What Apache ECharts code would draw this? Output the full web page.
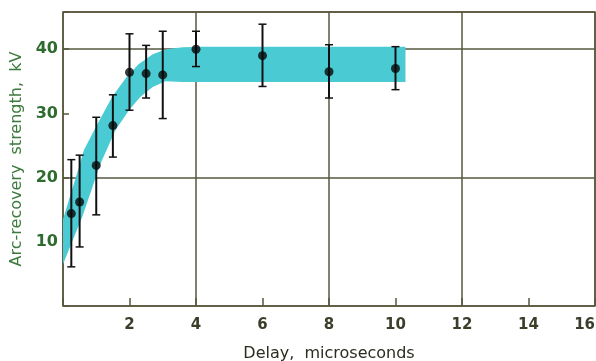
<!DOCTYPE html>
<html>
<head>
<meta charset="utf-8">
<script src="https://cdn.jsdelivr.net/npm/echarts@6/dist/echarts.min.js"></script>
<style>
html,body{margin:0;padding:0;background:#fff;}
#c{width:596px;height:361px;}
</style>
</head>
<body>
<div id="c"></div>
<script>
// Data points: delay (microseconds), arc-recovery strength (kV), error bar low/high
var delays = [0.25, 0.5, 1.0, 1.5, 2.0, 2.5, 3.0, 4.0, 6.0, 8.0, 10.0];
var strength = [14.4, 16.2, 21.9, 28.1, 36.4, 36.2, 36.0, 40.0, 39.0, 36.5, 37.0];
var errLow = [6.1, 9.2, 14.2, 23.2, 30.5, 32.4, 29.2, 37.3, 34.2, 32.4, 33.7];
var errHigh = [22.8, 23.5, 29.4, 32.9, 42.4, 40.6, 42.8, 42.8, 43.9, 40.7, 40.4];

// Shaded band edges (x, y)
var bandUpperX = [0, 0.33, 0.63, 1.0, 1.48, 1.9, 2.28, 2.7, 3.1, 3.6, 4.2, 10.3];
var bandUpperY = [13.5, 19.1, 24.3, 28.0, 32.6, 35.6, 37.7, 39.2, 40.0, 40.3, 40.4, 40.4];
var bandLowerX = [0, 0.58, 1.13, 1.58, 2.0, 2.33, 2.7, 3.08, 3.6, 10.3];
var bandLowerY = [6.5, 13.9, 22.2, 27.4, 30.6, 32.6, 34.1, 35.0, 34.9, 34.9];

var xTicks = [2, 4, 6, 8, 10, 12, 14, 16];
var yTicks = [10, 20, 30, 40];

var gridColor = '#57573f';

var chart = echarts.init(document.getElementById('c'), null, {renderer: 'canvas'});

var errData = delays.map(function (d, i) { return [d, errLow[i], errHigh[i]]; });
var ptData = delays.map(function (d, i) { return [d, strength[i]]; });

var option = {
  animation: false,
  backgroundColor: '#ffffff',
  grid: {
    left: 63, top: 12, right: 1, bottom: 55,
    containLabel: false, outerBoundsMode: 'none',
    show: true, borderColor: gridColor, borderWidth: 1.5, backgroundColor: 'transparent'
  },
  xAxis: [
    {
      type: 'value', min: 0, max: 16, interval: 2,
      name: 'Delay,  microseconds', nameLocation: 'middle', nameGap: 40,
      nameTextStyle: {color: '#2b2b1e', fontSize: 16, fontFamily: 'DejaVu Sans'},
      axisLine: {show: false},
      axisTick: {show: true, inside: true, length: 8, lineStyle: {color: gridColor, width: 1.5}},
      axisLabel: {
        color: '#3a3f2a', fontSize: 15, fontWeight: 'bold', fontFamily: 'DejaVu Sans', margin: 12,
        alignMaxLabel: 'right',
        formatter: function (v) { return xTicks.indexOf(v) >= 0 ? String(v) : ''; }
      },
      splitLine: {show: false}
    },
    {
      type: 'value', min: 0, max: 16, interval: 4, position: 'bottom',
      axisLine: {show: false}, axisTick: {show: false}, axisLabel: {show: false},
      splitLine: {show: true, lineStyle: {color: gridColor, width: 1.5}}
    }
  ],
  yAxis: [
    {
      type: 'value', min: 0, max: 45.8, interval: 10,
      name: 'Arc-recovery  strength,  kV', nameLocation: 'middle', nameGap: 38, nameRotate: 90,
      nameTextStyle: {color: '#3d7a3d', fontSize: 16, fontFamily: 'DejaVu Sans'},
      axisLine: {show: false},
      axisTick: {show: true, inside: true, length: 6, lineStyle: {color: gridColor, width: 1.5}},
      axisLabel: {
        color: '#2e6b2e', fontSize: 16, fontWeight: 'bold', fontFamily: 'DejaVu Sans', margin: 5,
        formatter: function (v) { return yTicks.indexOf(v) >= 0 ? String(v) : ''; }
      },
      splitLine: {show: false}
    },
    {
      type: 'value', min: 0, max: 45.8, interval: 20, position: 'left',
      axisLine: {show: false}, axisTick: {show: false}, axisLabel: {show: false},
      splitLine: {show: true, lineStyle: {color: gridColor, width: 1.5}}
    }
  ],
  series: [
    {
      type: 'custom',
      xAxisIndex: 0, yAxisIndex: 0,
      data: [[0, 0]],
      silent: true,
      z: 1,
      renderItem: function (params, api) {
        var pts = [];
        for (var i = 0; i < bandUpperX.length; i++) pts.push(api.coord([bandUpperX[i], bandUpperY[i]]));
        for (var j = bandLowerX.length - 1; j >= 0; j--) pts.push(api.coord([bandLowerX[j], bandLowerY[j]]));
        return {
          type: 'polygon',
          shape: {points: pts, smooth: 0},
          style: {fill: '#4acbd4', stroke: null}
        };
      }
    },
    {
      type: 'custom',
      xAxisIndex: 0, yAxisIndex: 0,
      data: errData,
      z: 5,
      renderItem: function (params, api) {
        var x = api.value(0);
        var lo = api.coord([x, api.value(1)]);
        var hi = api.coord([x, api.value(2)]);
        var hw = 4;
        var st = {stroke: '#111111', lineWidth: 2, fill: null};
        var stc = {stroke: '#111111', lineWidth: 1.5, fill: null};
        return {
          type: 'group',
          children: [
            {type: 'line', shape: {x1: lo[0], y1: lo[1], x2: hi[0], y2: hi[1]}, style: st},
            {type: 'line', shape: {x1: lo[0] - hw, y1: lo[1], x2: lo[0] + hw, y2: lo[1]}, style: stc},
            {type: 'line', shape: {x1: hi[0] - hw, y1: hi[1], x2: hi[0] + hw, y2: hi[1]}, style: stc}
          ]
        };
      }
    },
    {
      type: 'scatter',
      xAxisIndex: 0, yAxisIndex: 0,
      data: ptData,
      symbol: 'circle',
      symbolSize: 9,
      itemStyle: {color: '#080808'},
      z: 6
    }
  ]
};
chart.setOption(option);
</script>
</body>
</html>
